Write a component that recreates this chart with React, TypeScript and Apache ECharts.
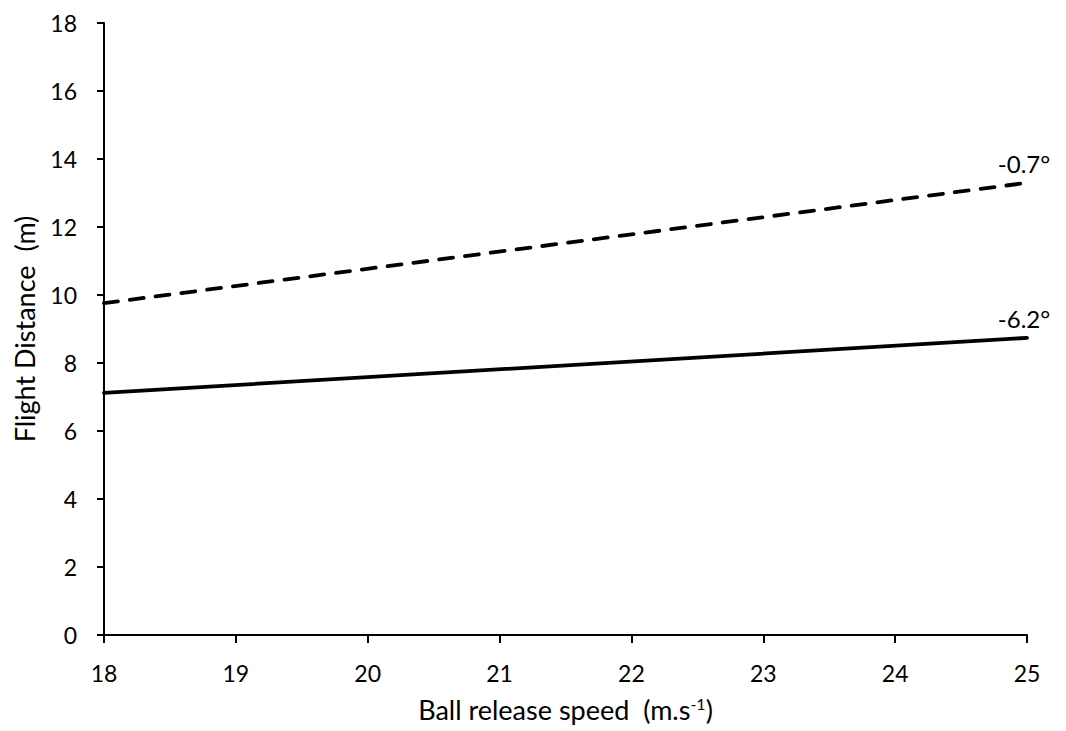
import React, { useEffect, useRef } from "react";
import * as echarts from "echarts";

const speeds = [18, 25];
const angleHigh = [9.76, 13.3];
const angleLow = [7.12, 8.74];
const seriesNames = ["-0.7°", "-6.2°"];
const yTicks = { min: 0, max: 18, interval: 2 };
const xTicks = { min: 18, max: 25, interval: 1 };

const FONT = "Lato";

function makeData(vals: number[], name: string) {
  return vals.map((v, i) => {
    const item: any = { value: [speeds[i], v] };
    if (i === vals.length - 1) {
      item.label = {
        show: true,
        formatter: name,
        position: "top",
        distance: 7,
        offset: [-3, 0],
        color: "#000",
        fontSize: 24,
        fontFamily: FONT,
      };
    }
    return item;
  });
}

export default function App() {
  const ref = useRef<HTMLDivElement>(null);
  useEffect(() => {
    const chart = echarts.init(ref.current!, null, { renderer: "svg" });
    const axisText = { color: "#000", fontSize: 23, fontFamily: FONT };
    chart.setOption({
      animation: false,
      backgroundColor: "#fff",
      grid: { left: 104, right: 39, top: 23, bottom: 96, containLabel: false },
      xAxis: {
        type: "value",
        min: xTicks.min,
        max: xTicks.max,
        interval: xTicks.interval,
        name: "Ball release speed  (m.s{sup|-1})",
        nameLocation: "middle",
        nameMoveOverlap: false,
        nameGap: 60,
        nameTextStyle: {
          color: "#000",
          fontSize: 27,
          fontFamily: FONT,
          verticalAlign: "top",
          rich: { sup: { fontSize: 16, verticalAlign: "top", padding: [0, 0, 12, 0], fontFamily: FONT, color: "#000" } },
        },
        axisLine: { show: true, lineStyle: { color: "#000", width: 2 } },
        axisTick: { show: true, inside: false, length: 8, lineStyle: { color: "#000", width: 2 } },
        axisLabel: { ...axisText, margin: 26 },
        splitLine: { show: false },
      },
      yAxis: {
        type: "value",
        min: yTicks.min,
        max: yTicks.max,
        interval: yTicks.interval,
        name: "Flight Distance  (m)",
        nameLocation: "middle",
        nameMoveOverlap: false,
        nameGap: 66,
        nameRotate: 90,
        nameTextStyle: { color: "#000", fontSize: 27, fontFamily: FONT },
        axisLine: { show: true, lineStyle: { color: "#000", width: 2 } },
        axisTick: { show: true, inside: false, length: 7, lineStyle: { color: "#000", width: 2 } },
        axisLabel: { ...axisText, margin: 27 },
        splitLine: { show: false },
      },
      series: [
        {
          name: seriesNames[0],
          type: "line",
          data: makeData(angleHigh, seriesNames[0]),
          showSymbol: true,
          symbol: "circle",
          symbolSize: 0,
          lineStyle: { color: "#000", width: 3.8, type: [14, 12], cap: "round" },
          itemStyle: { color: "#000" },
        },
        {
          name: seriesNames[1],
          type: "line",
          data: makeData(angleLow, seriesNames[1]),
          showSymbol: true,
          symbol: "circle",
          symbolSize: 0,
          lineStyle: { color: "#000", width: 3.8, cap: "round" },
          itemStyle: { color: "#000" },
        },
      ],
    });
    return () => chart.dispose();
  }, []);
  return (
    <div
      ref={ref}
      style={{ position: "absolute", left: 0, top: 0, width: 1066, height: 731 }}
    />
  );
}
